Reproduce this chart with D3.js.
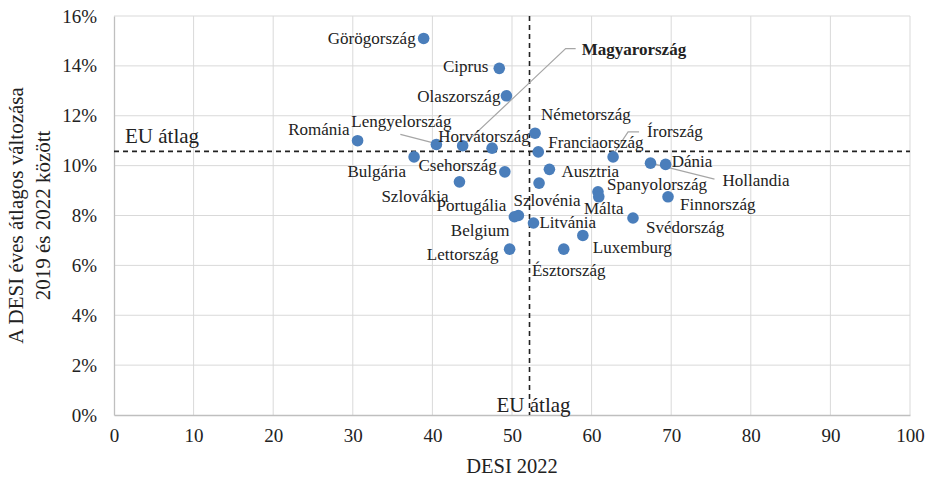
<!DOCTYPE html>
<html>
<head>
<meta charset="utf-8">
<script src="https://cdn.jsdelivr.net/npm/d3@7/dist/d3.min.js"></script>
<style>
  html, body { margin: 0; padding: 0; background: #fff; }
  svg { display: block; font-family: "Liberation Serif", "Times New Roman", serif; }
</style>
</head>
<body>
<svg id="chart" width="927" height="480"></svg>
<script>
// ---- Data ----
const countries = ["Görögország","Ciprus","Olaszország","Románia","Lengyelország","Magyarország","Horvátország",
  "Németország","Franciaország","Írország","Dánia","Hollandia","Bulgária","Csehország","Ausztria","Szlovénia",
  "Szlovákia","Spanyolország","Málta","Finnország","Svédország","Portugália","Belgium","Litvánia","Lettország",
  "Észtország","Luxemburg"];
const desi2022 = [38.9,48.4,49.3,30.6,40.5,43.8,47.5,52.9,53.3,62.7,69.3,67.4,37.7,49.1,54.7,53.4,
  43.4,60.8,60.9,69.6,65.2,50.8,50.3,52.7,49.7,56.5,58.9];
const avgChange = [0.151,0.139,0.128,0.110,0.1085,0.108,0.107,0.113,0.1055,0.1035,0.1005,0.101,0.1035,0.0975,0.0985,0.093,
  0.0935,0.0895,0.0875,0.0875,0.079,0.080,0.0795,0.077,0.0665,0.0665,0.072];
const euAvgDesi = 52.2;
const euAvgChange = 0.1057;
const xTicks = [0,10,20,30,40,50,60,70,80,90,100];
const yTicks = [0,0.02,0.04,0.06,0.08,0.10,0.12,0.14,0.16];
const xTitle = "DESI 2022";
const yTitle = ["A DESI éves átlagos változása", "2019 és 2022 között"];
const euLabel = "EU átlag";

// ---- Label placement (pixel offsets from the point) ----
const labelPlace = {
  "Görögország":[-8,0,"end"], "Ciprus":[-11,-2,"end"], "Olaszország":[-6,1,"end"], "Románia":[-8,-11,"end"],
  "Lengyelország":[-35,-23,"middle"], "Magyarország":[119,-96,"start"], "Horvátország":[-8,-12,"middle"],
  "Németország":[6,-19,"start"], "Franciaország":[10,-9,"start"], "Írország":[34,-25,"start"],
  "Dánia":[6,-3,"start"], "Hollandia":[72,17,"start"], "Bulgária":[-8,15,"end"], "Csehország":[-8,-6,"end"],
  "Ausztria":[12,2,"start"], "Szlovénia":[8,17,"middle"], "Szlovákia":[-11,15,"end"],
  "Spanyolország":[9,-7,"start"], "Málta":[5,12,"middle"], "Finnország":[12,8,"start"],
  "Svédország":[13,10,"start"], "Portugália":[-12,-10,"end"], "Belgium":[-5,14,"end"],
  "Litvánia":[6,0,"start"], "Lettország":[-11,5,"end"], "Észtország":[5,21,"middle"], "Luxemburg":[10,12,"start"]
};
const leaders = {
  "Lengyelország":[[-5,-2],[-36,-10]],
  "Magyarország":[[0,0],[103,-97],[113,-97]],
  "Írország":[[1,-4],[15,-25],[26,-25]],
  "Hollandia":[[0,0],[64,16]]
};

// ---- Chart ----
const svg = d3.select("#chart");
const pL = 114, pR = 910, pT = 16, pB = 415;
const x = d3.scaleLinear().domain([0,100]).range([pL,pR]);
const y = d3.scaleLinear().domain([0,0.16]).range([pB,pT]);

// gridlines
const g = svg.append("g");
g.selectAll("line.vg").data(xTicks.slice(1)).join("line")
  .attr("x1", d=>x(d)).attr("x2", d=>x(d)).attr("y1", pT).attr("y2", pB)
  .attr("stroke", "#d9d9d9").attr("stroke-width", 1);
g.selectAll("line.hg").data(yTicks.slice(1)).join("line")
  .attr("x1", pL).attr("x2", pR).attr("y1", d=>y(d)).attr("y2", d=>y(d))
  .attr("stroke", "#d9d9d9").attr("stroke-width", 1);

// axes
const xAxis = d3.axisBottom(x).tickValues(xTicks).tickSize(0).tickPadding(14).tickFormat(d3.format("d"));
const yAxis = d3.axisLeft(y).tickValues(yTicks).tickSize(0).tickPadding(17).tickFormat(d3.format(".0%"));
const gx = svg.append("g").attr("transform", `translate(0,${pB})`).call(xAxis);
const gy = svg.append("g").attr("transform", `translate(${pL},0)`).call(yAxis);
[gx, gy].forEach(a => {
  a.select(".domain").attr("stroke", "#bfbfbf").attr("stroke-width", 1.3);
  a.selectAll("text").attr("font-family", "Liberation Serif").attr("font-size", 19).attr("fill", "#222");
});

// EU average lines
svg.append("line").attr("x1", pL).attr("x2", pR)
  .attr("y1", y(euAvgChange)).attr("y2", y(euAvgChange))
  .attr("stroke", "#222").attr("stroke-width", 1.6).attr("stroke-dasharray", "5,4");
svg.append("line").attr("x1", x(euAvgDesi)).attr("x2", x(euAvgDesi))
  .attr("y1", pT).attr("y2", pB)
  .attr("stroke", "#222").attr("stroke-width", 1.6).attr("stroke-dasharray", "5,4");
svg.append("text").attr("x", 125).attr("y", y(euAvgChange) - 15)
  .attr("dominant-baseline", "central").attr("font-size", 21).attr("fill", "#222").text(euLabel);
svg.append("text").attr("x", x(euAvgDesi) - 33).attr("y", 405)
  .attr("dominant-baseline", "central").attr("font-size", 21).attr("fill", "#222").text(euLabel);

// data
const data = countries.map((c,i) => ({name:c, xv:desi2022[i], yv:avgChange[i]}));

// leader lines
svg.append("g").selectAll("path").data(data.filter(d => leaders[d.name])).join("path")
  .attr("d", d => d3.line()(leaders[d.name].map(p => [x(d.xv)+p[0], y(d.yv)+p[1]])))
  .attr("fill", "none").attr("stroke", "#a6a6a6").attr("stroke-width", 1.2);

// points
svg.append("g").selectAll("circle").data(data).join("circle")
  .attr("cx", d => x(d.xv)).attr("cy", d => y(d.yv)).attr("r", 5.8)
  .attr("fill", "#4a7ebb");

// labels
svg.append("g").selectAll("text").data(data).join("text")
  .attr("x", d => x(d.xv) + labelPlace[d.name][0])
  .attr("y", d => y(d.yv) + labelPlace[d.name][1])
  .attr("text-anchor", d => labelPlace[d.name][2])
  .attr("dominant-baseline", "central")
  .attr("font-size", 17)
  .attr("font-weight", d => d.name === "Magyarország" ? "bold" : "normal")
  .attr("fill", "#222")
  .text(d => d.name);

// titles
svg.append("text").attr("x", (pL+pR)/2).attr("y", 466).attr("text-anchor", "middle")
  .attr("dominant-baseline", "central").attr("font-size", 20.5).attr("fill", "#222").text(xTitle);
const yt = svg.append("text").attr("transform", `translate(16,${(pT+pB)/2}) rotate(-90)`)
  .attr("text-anchor", "middle").attr("font-size", 21).attr("fill", "#222");
yt.append("tspan").attr("x", 0).attr("y", 0).attr("dominant-baseline", "central").text(yTitle[0]);
yt.append("tspan").attr("x", 0).attr("y", 27).attr("dominant-baseline", "central").text(yTitle[1]);
</script>
</body>
</html>
